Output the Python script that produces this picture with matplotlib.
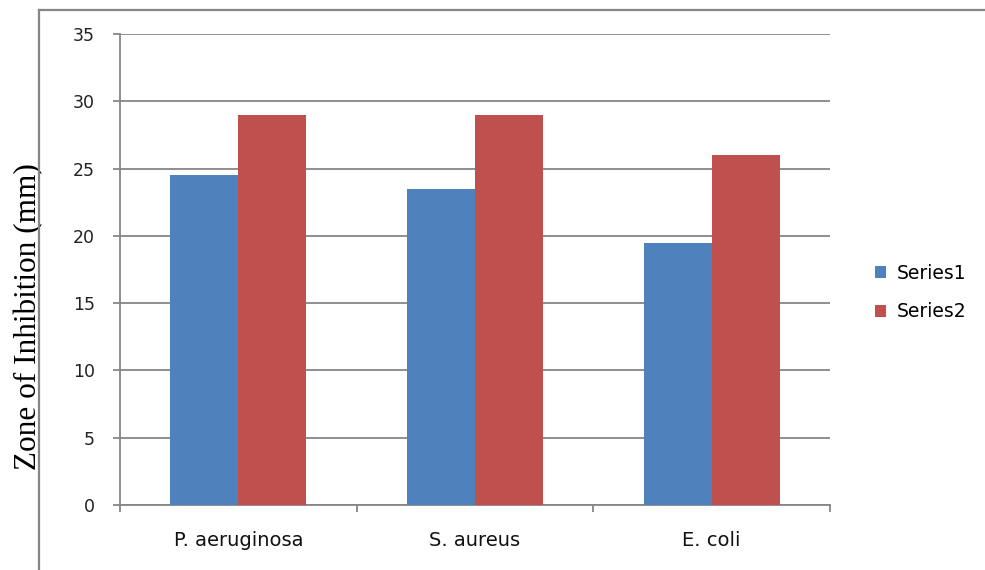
import matplotlib
matplotlib.use("Agg")
import matplotlib.pyplot as plt
from matplotlib.lines import Line2D
from matplotlib.patches import Patch
import numpy as np

categories = ["P. aeruginosa", "S. aureus", "E. coli"]
series1 = [24.5, 23.5, 19.5]
series2 = [29, 29, 26]
series_names = ["Series1", "Series2"]
yticks = [0, 5, 10, 15, 20, 25, 30, 35]

blue = "#4F81BD"
red = "#C0504D"
gray = "#868686"

fig = plt.figure(figsize=(9.85, 5.7), dpi=100)
ax = fig.add_axes([120/985, 1-505/570, 710/985, 471/570])

x = np.arange(len(categories))
w = 0.287
ax.bar(x - w/2, series1, w, color=blue, label=series_names[0], zorder=3)
ax.bar(x + w/2, series2, w, color=red, label=series_names[1], zorder=3)

ax.set_xlim(-0.5, len(categories) - 0.5)
ax.set_ylim(0, 35)
ax.set_yticks(yticks)
ax.set_yticklabels([str(t) for t in yticks], fontsize=12.5, color="#222222")
ax.yaxis.grid(True, color=gray, linewidth=1.3, zorder=0)
ax.set_axisbelow(True)

ax.set_xticks(x)
ax.set_xticklabels(categories, fontsize=14, color="#111111")
ax.tick_params(axis="x", which="major", length=0, pad=19)
ax.set_xticks(np.arange(-0.5, len(categories)), minor=True)
ax.tick_params(axis="x", which="minor", length=5, width=1.3, color=gray)
ax.tick_params(axis="y", length=5, width=1.3, color=gray, pad=13)

for s in ["top", "right"]:
    ax.spines[s].set_visible(False)
for s in ["left", "bottom"]:
    ax.spines[s].set_color(gray)
    ax.spines[s].set_linewidth(1.3)

ax.set_ylabel("Zone of Inhibition (mm)", family="Liberation Serif", fontsize=22.5,
              color="#000000")
ax.yaxis.set_label_coords((43-120)/710, 0.40)

# outer frame
fig.add_artist(Line2D([39/985, 39/985], [0, 1-10/570], transform=fig.transFigure,
                      color=gray, linewidth=1.6))
fig.add_artist(Line2D([39/985, 1], [1-10/570, 1-10/570], transform=fig.transFigure,
                      color=gray, linewidth=1.6))

handles = [Patch(facecolor=blue), Patch(facecolor=red)]
fig.legend(handles, series_names, loc="center left", bbox_to_anchor=(858/985, 1-292.5/570),
           frameon=False, fontsize=13.5, handlelength=0.6, handleheight=0.6,
           handletextpad=0.55, labelspacing=1.05)

fig.savefig("out.png", dpi=100)
